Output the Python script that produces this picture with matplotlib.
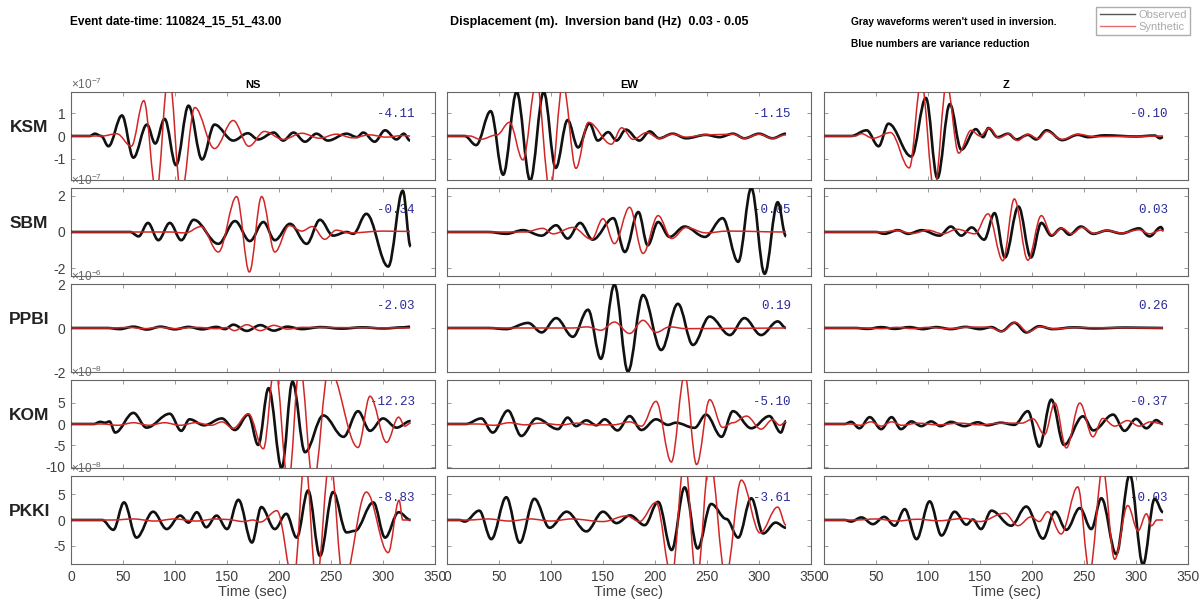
import matplotlib
matplotlib.use('Agg')
import matplotlib.pyplot as plt
from matplotlib.path import Path
from matplotlib.patches import PathPatch
from matplotlib.lines import Line2D
from matplotlib.ticker import ScalarFormatter, NullFormatter

plt.rcParams['font.family'] = ['Liberation Sans', 'DejaVu Sans']
plt.rcParams['axes.unicode_minus'] = False
plt.rcParams['mathtext.fontset'] = 'custom'
plt.rcParams['mathtext.rm'] = 'Liberation Sans'

stations = ['KSM', 'SBM', 'PPBI', 'KOM', 'PKKI']
components = ['NS', 'EW', 'Z']
exponents = [-7, -7, -6, -8, -8]
amp_limits = [1.93, 2.42, 2.0, 10.3, 8.5]
amp_ticks = [[-1, 0, 1], [-2, 0, 2], [-2, 0, 2], [-10, -5, 0, 5], [-5, 0, 5]]
time_ticks = [0, 50, 100, 150, 200, 250, 300, 350]
variance_reduction = [['-4.11', '-1.15', '-0.10'],
                      ['-0.34', '-0.05', '0.03'],
                      ['-2.03', '0.19', '0.26'],
                      ['-12.23', '-5.10', '-0.37'],
                      ['-8.83', '-3.61', '-0.03']]

# waveform extrema: (time sec, amplitude in units of 10^exponent)
ksm_ns_obs = [(0, 0), (18, 0), (23, 0.1), (29, 0), (36, -0.45), (49, 0.9), (60, -0.95), (73, 0.5), (81, -0.33),
              (90, 0.75), (101, -1.28), (113, 1.33), (126, -1.03), (138, 0.5), (156, -0.2), (170, 0.12), (180, -0.15),
              (195, 0.15), (204, -0.2), (214, 0.15), (225, -0.25), (236, 0.1), (247, -0.2), (265, 0.1), (275, -0.05),
              (281, 0.15), (292, -0.25), (302, 0.25), (313, -0.15), (320, 0.1), (326, -0.2)]
ksm_ns_syn = [(0, 0), (30, 0), (44, 0.1), (58, -0.45), (70, 1.55), (82, -2.5), (94, 2.8), (106, -2.6), (119, 1.25),
              (138, -0.55), (156, 0.68), (171, -0.45), (186, 0.2), (204, -0.15), (222, 0.12), (239, -0.1), (255, 0.08),
              (271, -0.08), (287, 0.05), (303, -0.05), (319, 0.02), (326, 0)]
ksm_ew_obs = [(0, 0), (17, 0), (28, -0.4), (42, 1.09), (54, -1.7), (67, 1.93), (80, -1.95), (93, 1.93), (104.5, -1.4),
              (116, 0.7), (126, -0.5), (137, 0.55), (145, -0.2), (155, 0.17), (163, -0.2), (172, 0.28), (185, -0.2),
              (195, 0.2), (204, -0.1), (217, 0.1), (230, -0.1), (249, 0.05), (262, -0.05), (275, 0.1), (286, -0.1),
              (300, 0.1), (313, -0.1), (326, 0.1)]
ksm_ew_syn = [(0, 0), (22, 0), (32, -0.15), (48, 0.05), (60, 0.6), (73, -1.05), (86, 2.4), (99, -2.4), (111.5, 2.3),
              (124, -1.42), (136, 0.6), (158, -0.36), (168, 0.36), (179, -0.15), (192, 0.15), (204, -0.1), (217, 0.08),
              (230, -0.05), (249, 0.05), (275, 0.08), (286, -0.1), (300, 0.08), (313, -0.1), (326, 0.05)]
ksm_z_obs = [(0, 0), (26, 0), (41, 0.25), (52.5, -0.45), (62, 0.54), (84, -0.9), (98, 1.67), (109, -1.85), (121, 1.4),
             (132, -0.6), (146, 0.3), (153, -0.05), (158, 0.35), (167, -0.05), (177, 0.1), (185, -0.15), (196, 0.05),
             (204, -0.15), (214, 0.25), (229, -0.18), (244, 0.05), (254, -0.05), (270, 0.03), (300, -0.02), (318, 0.02),
             (323, -0.1), (326, -0.05)]
ksm_z_syn = [(0, 0), (30, 0), (36, 0.1), (47, -0.1), (64, 0.15), (82, -1.4), (93.5, 2.4), (106, -2.4), (118, 2.3),
             (129.5, -0.75), (141.5, 0.25), (150, 0.0), (159, 0.35), (168, -0.08), (178, 0.1), (186, -0.2), (196, 0.08),
             (206, -0.12), (214, 0.2), (229, -0.15), (244, 0.08), (260, -0.03), (326, 0)]

sbm_ns_obs = [(0, 0), (57, 0), (65, -0.24), (74, 0.5), (84, -0.45), (95, 0.5), (106, -0.45), (118, 0.67), (141.7, -0.65),
              (157.7, 0.6), (172, -0.5), (185, 0.55), (196, -0.45), (210.6, 0.45), (226.6, -0.65), (239.4, 0.67),
              (252, -0.2), (265, 0.0), (271.5, -0.1), (284, 1.0), (305, -1.9), (319, 2.27), (326.6, -0.8)]
sbm_ns_syn = [(0, 0), (95, 0), (110, -0.05), (125, 0.3), (141.7, -1.1), (159.3, 1.95), (171.5, -2.2), (183.3, 1.95),
              (196, -1.1), (210, 0.35), (222, 0.05), (232, 0.3), (244, -0.4), (255, 0.1), (268, -0.05), (300, 0.05),
              (326, 0.03)]
sbm_ew_obs = [(0, 0), (40, 0), (57, -0.1), (73, 0.1), (91, -0.2), (105, 0.37), (116, -0.36), (128, 0.5), (140, -0.42),
              (160, 0.76), (171, -1.1), (184, 1.1), (193, -0.73), (203, 0.55), (214, -0.27), (228.5, 0.3), (248, -0.27),
              (265, 0.76), (280, -1.64), (292.6, 2.42), (305.4, -2.3), (318, 1.64), (326, -0.24)]
sbm_ew_syn = [(0, 0), (75, 0), (92, 0.2), (102, -0.1), (121, 0.25), (139, -0.4), (150, 0.73), (161, -0.64),
              (175.6, 1.36), (188.5, -1.18), (203, 0.9), (216, -0.36), (230, 0.25), (249, -0.05), (270, 0.05), (326, 0)]
sbm_z_obs = [(0, 0), (50, 0), (58, -0.1), (71, 0.1), (81, -0.1), (94, 0.1), (111, -0.2), (122, 0.3), (132, -0.2),
             (142, 0.25), (154, -0.42), (164, 1.04), (174, -1.4), (187, 1.4), (199, -1.4), (209, 0.5), (218.6, -0.2),
             (228, 0.2), (236, -0.15), (247, 0.3), (259, -0.1), (272, 0.08), (286, -0.08), (303, 0.2), (313, -0.24),
             (324, 0.27), (326.5, 0.1)]
sbm_z_syn = [(0, 0), (55, 0), (70, 0.08), (85, -0.08), (100, 0.1), (114, -0.1), (128, 0.15), (145, -0.1),
             (157.7, 1.0), (172, -1.58), (183, 1.82), (196, -1.55), (209, 0.9), (219, -0.15), (229, 0.2), (238, -0.1),
             (248, 0.25), (260, -0.08), (272, 0.08), (286, -0.06), (303, 0.12), (313, -0.1), (324, 0.1), (326.5, 0.05)]

ppbi_ns_obs = [(0, 0), (35, 0), (47, -0.05), (60, 0.06), (73, -0.07), (86, 0.06), (100, -0.06), (113, 0.05),
               (126, -0.06), (140, 0.05), (148, -0.05), (156, 0.15), (169, -0.13), (182, 0.13), (195, -0.12),
               (208, 0.06), (222, -0.05), (240, 0.04), (260, -0.03), (280, 0.03), (300, -0.02), (320, 0.03), (326, 0.06)]
ppbi_ns_syn = [(0, 0), (40, 0), (55, 0.03), (70, -0.03), (85, 0.03), (100, -0.03), (120, 0.03), (140, -0.03),
               (150, 0.02), (157, -0.12), (169, 0.15), (182, -0.12), (195, 0.12), (208, -0.05), (222, 0.03), (326, 0)]
ppbi_ew_obs = [(0, 0), (40, 0), (57, -0.05), (78, 0.23), (91, -0.2), (105, 0.45), (121, -0.4), (135.6, 0.83),
               (148, -1.4), (161, 1.97), (174, -1.98), (188.5, 1.5), (206, -1.0), (222, 1.1), (236.5, -0.77),
               (252.6, 0.52), (272, -0.32), (286, 0.45), (302, -0.32), (318, 0.3), (326, 0.0)]
ppbi_ew_syn = [(0, 0), (120, 0), (135, 0.05), (148, -0.1), (161, 0.27), (175.6, -0.25), (188.5, 0.35), (201, -0.2),
               (214, 0.05), (230, -0.03), (326, 0)]
ppbi_z_obs = [(0, 0), (30, 0), (42, -0.04), (55, 0.04), (68, -0.04), (82, 0.04), (95, -0.05), (108, 0.04),
              (122, -0.05), (136, 0.05), (150, -0.05), (161, 0.04), (170.5, -0.15), (183, 0.24), (194.5, -0.2),
              (207, 0.08), (220, -0.05), (240, 0.03), (260, -0.02), (290, 0.02), (326, 0)]
ppbi_z_syn = [(0, 0), (40, 0), (55, -0.03), (70, 0.03), (85, -0.03), (100, 0.03), (120, -0.03), (140, 0.04),
              (158, 0.04), (171, -0.15), (184, 0.25), (196, -0.18), (208, 0.06), (222, -0.04), (240, 0.02), (326, 0)]

kom_ns_obs = [(0, 0), (22, 0), (28, 0.5), (33, 0.3), (37, 0.6), (42.5, -2.0), (60, 2.6), (72.7, -0.85), (95, 2.4),
              (106, -1.6), (114, 1.1), (128, -0.3), (145, 1.3), (157.7, -1.4), (170.5, 2.2), (180, -4.9), (190, 8.4),
              (202.6, -10.3), (213, 9.9), (225, -6.6), (242.6, 2.0), (262, -3.0), (276, 3.0), (287.5, -1.6),
              (300, 1.3), (313, -0.85), (326.6, 0.7)]
kom_ns_syn = [(0, 0), (30, 0), (45, -0.3), (60, 0.3), (75, -0.3), (90, 0.3), (105, -0.3), (120, 0.3), (135, -0.3),
              (145, 0.5), (156, -1.0), (170.5, 2.4), (185, -5.8), (196, 14), (209, -14), (220, 14), (233, -14),
              (248, 13), (276, -5.5), (287.5, 6.5), (303.5, -4.3), (315, 1.6), (321, -0.5), (326.6, 0.2)]
kom_ew_obs = [(0, 0), (18, 0), (33, 1.3), (44, -2.0), (58.6, 3.15), (71.5, -2.8), (86, 1.3), (106.7, -1.2),
              (116, 1.5), (124, -0.5), (134, 0.85), (143.6, -0.3), (151.6, 1.1), (164, -1.5), (175.6, 1.85),
              (187, -1.4), (201, 1.1), (212.5, -0.2), (220, 0.3), (238, -0.9), (249, 2.2), (264, -3.0), (275, 3.0),
              (292.6, -1.0), (310, 1.85), (321, -2.0), (326, 0.7)]
kom_ew_syn = [(0, 0), (30, 0), (45, -0.3), (60, 0.3), (75, -0.2), (90, 0.2), (110, -0.2), (125, 0.2), (140, -0.2),
              (160, -0.2), (175.6, 0.5), (187, -0.5), (201, 5.3), (215.7, -8.9), (228.5, 11.5), (240, -9.5),
              (252.6, 5.7), (265, -0.8), (275, 0.3), (288, 1.85), (302, -1.2), (313, 1.0), (320, -0.3), (326, 0.5)]
kom_z_obs = [(0, 0), (20, 0), (26, 0.5), (34, -1.0), (44, 1.6), (55, -1.2), (65, 1.6), (74, -1.2), (84, 0.6),
             (93.6, -0.5), (103, 0.6), (112, -0.5), (122, 0.5), (135, -0.5), (148, 0.4), (157, -0.3), (170, 0.3),
             (183, -0.2), (196, 3.0), (207, -5.3), (218.6, 5.7), (230.8, -4.9), (249, 1.8), (259, -1.5), (278, 2.2),
             (289, -1.6), (300, 1.2), (310, -1.0), (319.5, 0.9), (326, 0)]
kom_z_syn = [(0, 0), (25, 0), (35, -0.3), (45, 0.5), (55, -0.5), (65, 0.5), (75, -0.3), (90, 0.2), (110, -0.2),
             (130, 0.2), (150, -0.2), (170, 0.2), (190, 0.2), (201, 1.2), (212, -2.5), (222, 4.9), (233, -5.6),
             (246, 4.9), (258.6, -3.0), (268, 1.3), (279.5, -0.5), (292, 0.8), (303, -0.5), (314, 0.5), (326, 0)]

pkki_ns_obs = [(0, 0), (30, 0), (40.7, -1.9), (51, 3.4), (63, -3.4), (79, 1.6), (92, -1.75), (105, 0.85), (113, -0.5),
               (121, 1.5), (130, -1.4), (140, 0.85), (150, -1.75), (161, 3.9), (174, -4.35), (183, 2.5), (196, -1.75),
               (207, 1.2), (217, -3.4), (228, 5.7), (239.4, -6.95), (252, 5.4), (265, -2.4), (273, -2.1),
               (290.7, 3.4), (302, -3.4), (315, 1.5), (326.6, 0.0)]
pkki_ns_syn = [(0, 0), (40, 0), (60, 0.2), (80, -0.2), (100, 0.2), (120, -0.2), (140, 0.2), (150, 0.1), (166, -0.3),
               (175, 0.0), (182, -0.4), (198, 1.8), (214, -12), (225, 12), (236, -12), (249, 12), (262, -12),
               (284, 5.4), (305, -6.3), (315.5, 3.8), (319, 0), (326.6, 0)]
pkki_ew_obs = [(0, 0), (12, 0), (17, -0.3), (31, 1.8), (42.6, -3.7), (57, 4.4), (70, -4.4), (84, 4.1), (98.7, -1.5),
               (115, 1.6), (134, -2.2), (150, 1.6), (163, -0.6), (176, 0.9), (190, -1.0), (203, 3.5), (216, -5.8),
               (228.5, 6.3), (241, -5.5), (254, 3.1), (268.6, 0.2), (280, -3.4), (292.6, 4.2), (304, -2.6),
               (316, -0.5), (326, -1.5)]
pkki_ew_syn = [(0, 0), (20, 0), (40, 0.2), (60, -0.2), (80, 0.2), (100, -0.2), (120, 0.2), (150, -0.3),
               (172.6, 0.8), (185, -0.3), (201, 3.4), (216, -11), (228.5, 12), (240, -12), (252.6, 12), (268, -11),
               (283, 7.7), (301, -2.5), (318, 2.5), (326, -1.0)]
pkki_z_obs = [(0, 0), (20, 0), (26, -0.3), (36, 0.5), (47, -0.8), (58, 0.6), (68, -1.1), (77.6, 2.1), (89, -3.7),
              (101.6, 3.6), (113, -3.0), (125.6, 1.6), (137, -0.9), (143, 0.1), (151, -1.75), (161, 1.8), (180, -1.1),
              (194.5, 2.6), (210.6, -3.6), (222, 1.6), (233, -1.9), (246, 2.3), (257, -1.75), (266.7, 4.2),
              (281, -6.6), (294, 8.8), (306.7, -8.6), (318, 4.1), (326, 1.5)]
pkki_z_syn = [(0, 0), (30, 0), (50, 0.2), (70, -0.2), (90, 0.15), (110, -0.15), (135, 0.3), (150, -0.3),
              (173.7, 1.3), (186.5, -1.1), (199, 0.6), (207, -0.3), (215, 1.6), (228, -2.7), (244, 6.4),
              (255.4, -10), (268, 10), (279.5, -7.6), (292, 2.8), (302, -2.1), (310, 1.2), (315, -1.1), (320, 0),
              (326, 0)]

observed = [[ksm_ns_obs, ksm_ew_obs, ksm_z_obs],
            [sbm_ns_obs, sbm_ew_obs, sbm_z_obs],
            [ppbi_ns_obs, ppbi_ew_obs, ppbi_z_obs],
            [kom_ns_obs, kom_ew_obs, kom_z_obs],
            [pkki_ns_obs, pkki_ew_obs, pkki_z_obs]]
synthetic = [[ksm_ns_syn, ksm_ew_syn, ksm_z_syn],
             [sbm_ns_syn, sbm_ew_syn, sbm_z_syn],
             [ppbi_ns_syn, ppbi_ew_syn, ppbi_z_syn],
             [kom_ns_syn, kom_ew_syn, kom_z_syn],
             [pkki_ns_syn, pkki_ew_syn, pkki_z_syn]]


def wave_path(points, scale):
    # smooth line through the extrema, flat tangent at each one
    verts = [(points[0][0], points[0][1] * scale)]
    codes = [Path.MOVETO]
    for (t0, a0), (t1, a1) in zip(points[:-1], points[1:]):
        dt = (t1 - t0) * 0.36
        verts += [(t0 + dt, a0 * scale), (t1 - dt, a1 * scale), (t1, a1 * scale)]
        codes += [Path.CURVE4] * 3
    return Path(verts, codes)


W, H = 1204, 610
fig = plt.figure(figsize=(W / 100, H / 100), dpi=100)

col_left = [71, 447, 824]
row_top = [92, 188, 284, 380, 476]
ax_w, ax_h = 364, 88
obs_color = '#111111'
syn_color = '#d22626'
frame_color = '#666666'

for i, sta in enumerate(stations):
    scale = 10.0 ** exponents[i]
    for j, comp in enumerate(components):
        ax = fig.add_axes([col_left[j] / W, 1 - (row_top[i] + ax_h) / H, ax_w / W, ax_h / H])
        ax.add_patch(PathPatch(wave_path(observed[i][j], scale), fill=False, edgecolor=obs_color,
                               lw=1.9, zorder=3, joinstyle='round'))
        ax.add_patch(PathPatch(wave_path(synthetic[i][j], scale), fill=False, edgecolor=syn_color,
                               lw=1.1, zorder=4, joinstyle='round'))
        ax.set_xlim(0, 350)
        ax.set_ylim(-amp_limits[i] * scale, amp_limits[i] * scale)
        ax.set_xticks(time_ticks)
        ax.set_yticks([v * scale for v in amp_ticks[i]])
        ax.tick_params(direction='in', top=True, right=True, length=3, width=0.6,
                       color='#888888', labelsize=10, labelcolor='#404040', pad=4)
        for sp in ax.spines.values():
            sp.set_color(frame_color)
            sp.set_linewidth(0.8)

        if j == 0:
            # plain tick numbers, the power of ten written above the frame like MATLAB does
            fmt = ScalarFormatter(useMathText=False)
            fmt.set_useOffset(False)
            fmt.set_powerlimits((exponents[i], exponents[i]))
            ax.yaxis.set_major_formatter(fmt)
            ax.yaxis.get_offset_text().set_visible(False)
            ax.text(0.0, 1.0, r'$\times10^{%d}$' % exponents[i], transform=ax.transAxes, ha='left',
                    va='bottom', fontsize=8.5, color='#666666')
            ax.text(-0.115, 0.6, sta, transform=ax.transAxes, ha='center', va='center',
                    fontsize=12.5, fontweight='bold', color='#222222')
        else:
            ax.yaxis.set_major_formatter(NullFormatter())

        if i == len(stations) - 1:
            ax.set_xlabel('Time (sec)', fontsize=10.5, color='#404040', labelpad=1)
        else:
            ax.xaxis.set_major_formatter(NullFormatter())

        if i == 0:
            ax.set_title(comp, fontsize=8, fontweight='bold', pad=3)

        ax.text(0.945, 0.75, variance_reduction[i][j], transform=ax.transAxes, ha='right', va='center',
                family='Liberation Mono', fontsize=9, color='#2a2a9c', zorder=1)

fig.text(70 / W, 1 - 22 / H, 'Event date-time: 110824_15_51_43.00', fontsize=8.6, fontweight='bold',
         ha='left', va='center')
fig.text(450 / W, 1 - 22 / H, 'Displacement (m).  Inversion band (Hz)  0.03 - 0.05', fontsize=9,
         fontweight='bold', ha='left', va='center')
fig.text(851 / W, 1 - 22 / H, "Gray waveforms weren't used in inversion.", fontsize=7.3, fontweight='bold',
         ha='left', va='center')
fig.text(851 / W, 1 - 44 / H, 'Blue numbers are variance reduction', fontsize=7.3, fontweight='bold',
         ha='left', va='center')

handles = [Line2D([], [], color='#555555', lw=1.0), Line2D([], [], color='#e07070', lw=1.0)]
fig.legend(handles, ['Observed', 'Synthetic'], loc='upper right', bbox_to_anchor=(1196 / W, 1 - 1 / H),
           fontsize=8, frameon=True, fancybox=False, edgecolor='#999999', handlelength=3.2,
           borderpad=0.3, labelspacing=0.2, handletextpad=0.3, labelcolor='#aaaaaa')

fig.savefig('out.png', dpi=100)
